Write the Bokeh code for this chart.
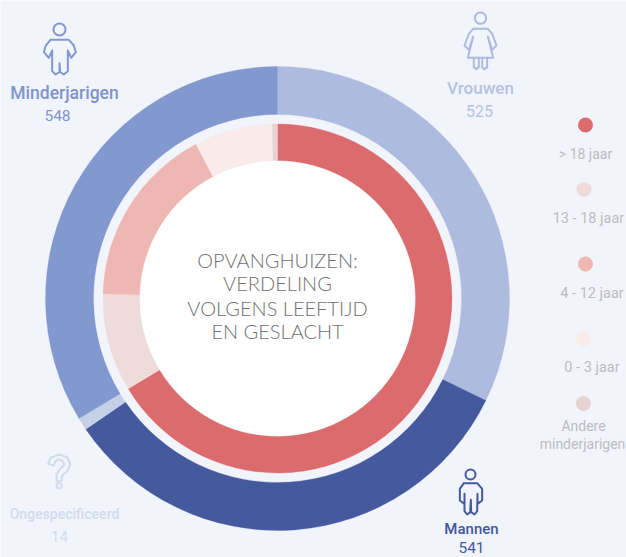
import numpy as np
from bokeh.plotting import figure
from bokeh.models import ColumnDataSource
from bokeh.core.properties import value
from bokeh.embed import file_html
from bokeh.resources import INLINE

W, H = 626, 557
BG = "#f2f4fb"

# Data
outer_labels = ["Vrouwen", "Mannen", "Ongespecificeerd", "Minderjarigen"]
outer_values = [525, 541, 14, 548]
outer_colors = ["#adbbdf", "#44599e", "#c3d0e6", "#8299cf"]

inner_labels = ["> 18 jaar", "13 - 18 jaar", "4 - 12 jaar", "0 - 3 jaar", "Andere minderjarigen"]
inner_values = [1080, 148, 274, 118, 8]
inner_colors = ["#dc6b6e", "#eddcd9", "#eeb7b1", "#f8ebe9", "#e8d3d4"]

title_lines = ["OPVANGHUIZEN:", "VERDELING", "VOLGENS LEEFTIJD", "EN GESLACHT"]

CX, CY = 277, 298


def Y(v):
    return H - np.asarray(v, dtype=float)


p = figure(width=W, height=H, x_range=(0, W), y_range=(0, H), toolbar_location=None,
           output_backend="svg", min_border=0, background_fill_color=BG,
           border_fill_color=BG, outline_line_color=None)
p.axis.visible = False
p.grid.visible = False


def ring(values, colors, r0, r1):
    v = np.array(values, dtype=float)
    ends = np.cumsum(v) / v.sum() * 2 * np.pi
    starts = np.r_[0, ends[:-1]]
    src = ColumnDataSource(dict(x=[CX] * len(v), y=[H - CY] * len(v),
                                s=np.pi / 2 - starts, e=np.pi / 2 - ends, c=colors))
    p.annular_wedge("x", "y", inner_radius=r0, outer_radius=r1, start_angle="s", end_angle="e",
                    direction="clock", fill_color="c", line_color="c", line_width=0.3, source=src)


p.circle([CX], [H - CY], radius=138, fill_color="white", line_color=None)
ring(outer_values, outer_colors, 184, 232)
ring(inner_values, inner_colors, 138, 174.5)


def txt(x, y, s, color, size, style="normal", font="Roboto"):
    p.text([x], [H - y], text=[s], text_color=color, text_font_size=f"{size}px",
           text_font=value(font), text_font_style=style, text_align="center",
           text_baseline="middle")


# centre title
for s, y in zip(title_lines, [259, 282, 307, 330]):
    txt(277, y, s, "#707074", 20, font="Lato Light")

# group labels
txt(64, 92, "Minderjarigen", "#7f95cc", 17.5, font="Roboto Medium")
txt(57, 115, "548", "#7f95cc", 15.5)
txt(480, 87, "Vrouwen", "#b5c2e2", 17, font="Roboto Medium")
txt(479, 110, "525", "#b5c2e2", 16)
txt(64, 513, "Ongespecificeerd", "#d0dcee", 14, font="Roboto Medium")
txt(59, 536, "14", "#d0dcee", 15)
txt(471, 528, "Mannen", "#44599e", 15, font="Roboto Medium")
txt(471, 547, "541", "#44599e", 15.5)

# legend
leg_x = [585, 583.5, 585, 583, 583]
leg_y = [124.5, 189, 263.5, 338, 403]
p.circle(leg_x, list(Y(leg_y)), radius=7.5, fill_color=inner_colors, line_color=None)
txt(585, 153, "> 18 jaar", "#bcbcc0", 14)
txt(588, 218, "13 - 18 jaar", "#bcbcc0", 14.5)
txt(591.5, 293, "4 - 12 jaar", "#bcbcc0", 14.5)
txt(591.5, 367, "0 - 3 jaar", "#bcbcc0", 14.5)
txt(583, 425, "Andere", "#bcbcc0", 14)
txt(582, 443, "minderjarigen", "#bcbcc0", 14)


# icons (decoration, outlined)
def icon(x0, y0, paths, circles, color, lw=2):
    for path in paths:
        xs = [x0 + a / 3 for a, _ in path]
        ys = [H - (y0 + b / 3) for _, b in path]
        p.line(xs, ys, line_color=color, line_width=lw, line_join="round", line_cap="round")
    for cx, cy, r in circles:
        p.circle([x0 + cx / 3], [H - (y0 + cy / 3)], radius=r / 3, fill_color=None,
                 line_color=color, line_width=lw)


child = [[(150, 118), (136, 135), (130, 155), (145, 172), (155, 150), (155, 212), (165, 222), (177, 215),
          (177, 188), (179, 215), (190, 222), (202, 212), (202, 150), (212, 172), (226, 155), (220, 135),
          (205, 118), (150, 118)]]
icon(0, 0, child, [(177, 87, 18)], "#8299cf")

woman = [[(128, 85), (172, 85), (185, 100), (198, 135), (185, 148), (172, 108), (188, 172), (112, 172),
          (128, 108), (115, 148), (102, 135), (115, 100), (128, 85)],
         [(130, 172), (130, 200), (137, 206), (145, 200), (145, 172)],
         [(155, 172), (155, 200), (162, 206), (170, 200), (170, 172)]]
icon(430, 0, woman, [(150, 53, 17)], "#adbbdf")

man = [[(100, 68), (140, 68), (155, 85), (155, 120), (141, 130), (141, 100), (140, 152), (132, 162), (122, 155),
        (121, 118), (119, 155), (110, 162), (102, 152), (102, 100), (102, 130), (88, 120), (88, 85), (100, 68)]]
icon(430, 460, man, [(120, 42, 15)], "#44599e")

question = [[(143, 70), (150, 52), (175, 42), (200, 50), (210, 72), (200, 92), (185, 105), (182, 122), (168, 122),
             (168, 100), (180, 85), (192, 72), (185, 60), (175, 57), (165, 62), (160, 75), (143, 70)]]
icon(0, 440, question, [(176, 136, 8)], "#d0dcee")

open("out.html", "w").write(file_html(p, INLINE))
